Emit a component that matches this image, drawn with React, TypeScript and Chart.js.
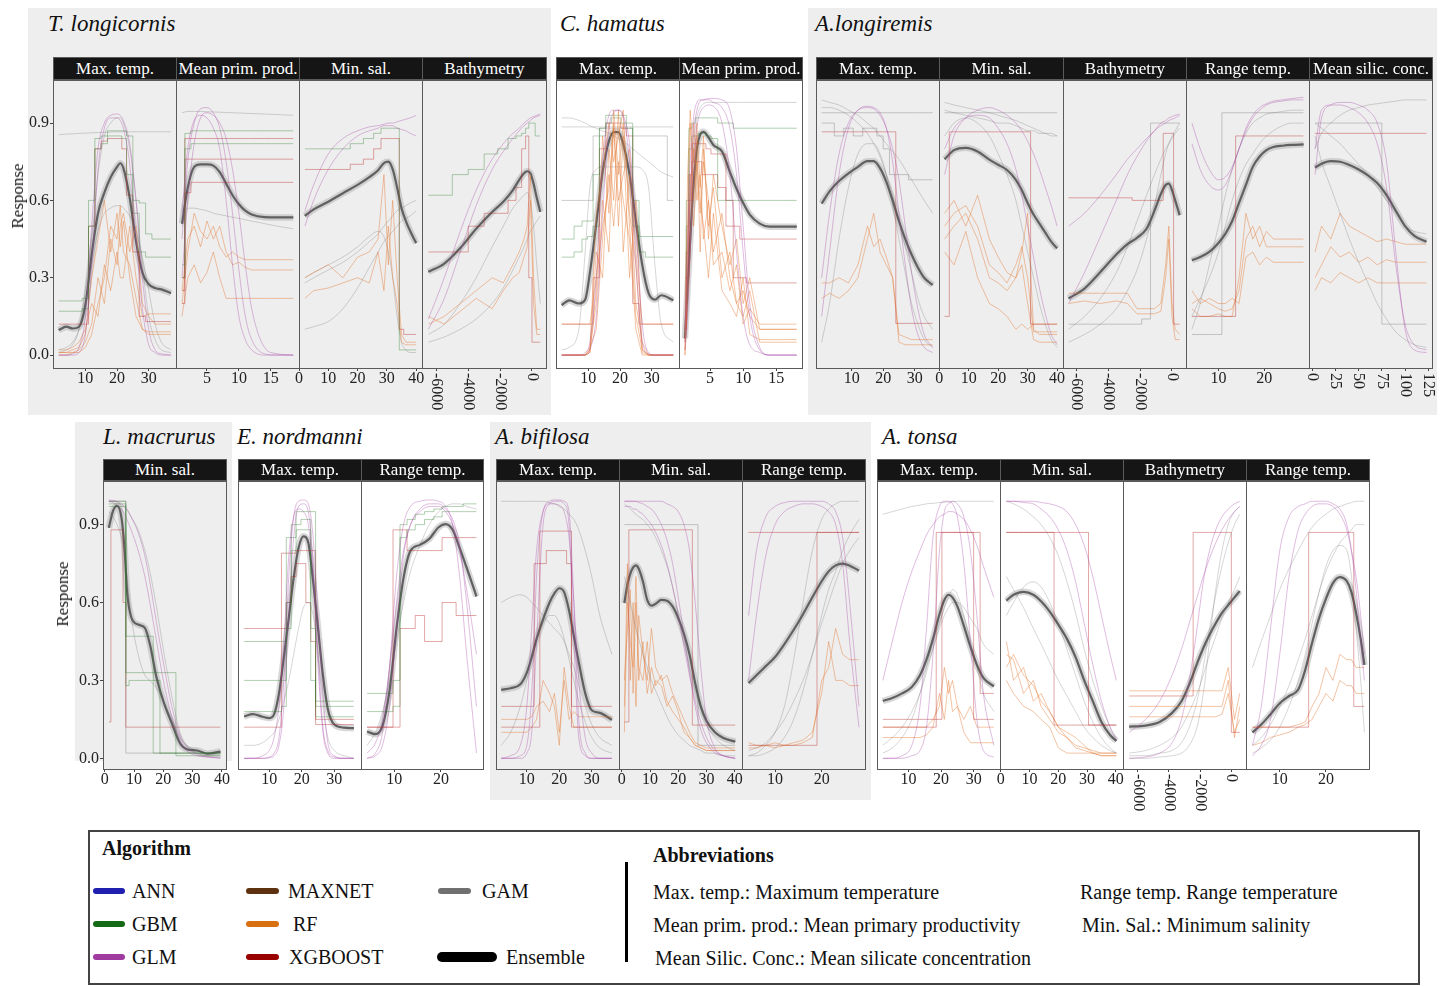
import React, { useEffect, useRef } from 'react';
import { Chart, registerables } from 'chart.js';
Chart.register(...registerables);

const SERIF = '"Liberation Serif", "Times New Roman", serif';
const GREY = '#eeeeee';

// ---------- tick values ----------
const Y_TICKS = [0, 0.3, 0.6, 0.9];
const TEMP_TICKS = [10, 20, 30];
const PROD_TICKS = [5, 10, 15];
const SAL_TICKS = [0, 10, 20, 30, 40];
const BATHY_TICKS = [-6000, -4000, -2000, 0];
const RANGE_TICKS = [10, 20];
const SILIC_TICKS = [0, 25, 50, 75, 100, 125];

type Line = [string, number[]];

// ---------- T. longicornis ----------
const TL_TEMP_X = [1.6, 4, 6, 8, 10, 12, 14, 16, 18, 20, 21, 22, 24, 26, 28, 30, 32, 34, 37];
const TL_TEMP_ENS = [0.097, 0.11, 0.103, 0.11, 0.194, 0.39, 0.55, 0.63, 0.69, 0.73, 0.744, 0.725, 0.61, 0.44, 0.32, 0.275, 0.26, 0.255, 0.24];
const TL_TEMP_LINES: Line[] = [
  ['glm', [0, 0, 0.005, 0.03, 0.15, 0.5, 0.8, 0.9, 0.93, 0.935, 0.93, 0.91, 0.82, 0.6, 0.3, 0.1, 0.02, 0.005, 0]],
  ['glm', [0, 0, 0, 0.01, 0.08, 0.35, 0.72, 0.88, 0.92, 0.92, 0.91, 0.88, 0.74, 0.45, 0.18, 0.04, 0.01, 0, 0]],
  ['gbm', [0.21, 0.21, 0.21, 0.21, 0.22, 0.6, 0.84, 0.85, 0.87, 0.87, 0.87, 0.87, 0.85, 0.6, 0.59, 0.47, 0.45, 0.45, 0.45]],
  ['gbm', [0.17, 0.17, 0.17, 0.17, 0.18, 0.5, 0.8, 0.82, 0.85, 0.85, 0.85, 0.84, 0.7, 0.55, 0.4, 0.38, 0.38, 0.38, 0.38]],
  ['xgb', [0.12, 0.12, 0.12, 0.12, 0.12, 0.5, 0.8, 0.83, 0.84, 0.84, 0.84, 0.8, 0.62, 0.4, 0.15, 0.13, 0.13, 0.13, 0.13]],
  ['rf', [0.01, 0.01, 0.01, 0.02, 0.05, 0.12, 0.3, 0.2, 0.45, 0.35, 0.5, 0.55, 0.4, 0.5, 0.2, 0.15, 0.12, 0.12, 0.12]],
  ['rf', [0.02, 0.02, 0.03, 0.05, 0.1, 0.2, 0.15, 0.35, 0.25, 0.4, 0.3, 0.3, 0.5, 0.3, 0.15, 0.16, 0.16, 0.16, 0.16]],
  ['rf', [0, 0, 0.01, 0.01, 0.03, 0.08, 0.2, 0.3, 0.5, 0.45, 0.58, 0.4, 0.35, 0.22, 0.1, 0.09, 0.09, 0.09, 0.09]],
  ['rf', [0.01, 0.01, 0.02, 0.03, 0.08, 0.3, 0.45, 0.6, 0.4, 0.55, 0.42, 0.52, 0.3, 0.15, 0.1, 0.08, 0.08, 0.08, 0.08]],
  ['gam', [0.855, 0.857, 0.858, 0.86, 0.861, 0.862, 0.863, 0.864, 0.865, 0.866, 0.866, 0.866, 0.866, 0.866, 0.866, 0.866, 0.866, 0.866, 0.866]],
  ['gam', [0.02, 0.03, 0.05, 0.1, 0.2, 0.35, 0.48, 0.55, 0.57, 0.58, 0.58, 0.57, 0.54, 0.48, 0.38, 0.25, 0.12, 0.05, 0.02]],
  ['gam', [0.01, 0.02, 0.04, 0.1, 0.25, 0.45, 0.7, 0.85, 0.9, 0.92, 0.92, 0.9, 0.8, 0.6, 0.35, 0.15, 0.06, 0.02, 0.01]],
];

const TL_PROD_X = [1.1, 2, 3, 4, 5, 6, 7, 8, 9, 10, 11, 12, 14, 16, 18.5];
const TL_PROD_ENS = [0.51, 0.65, 0.73, 0.74, 0.74, 0.735, 0.71, 0.665, 0.62, 0.585, 0.56, 0.545, 0.535, 0.534, 0.534];
const TL_PROD_LINES: Line[] = [
  ['glm', [0.45, 0.75, 0.9, 0.955, 0.96, 0.94, 0.88, 0.75, 0.55, 0.33, 0.15, 0.06, 0.005, 0, 0]],
  ['glm', [0.3, 0.6, 0.82, 0.92, 0.94, 0.93, 0.9, 0.84, 0.72, 0.55, 0.35, 0.18, 0.03, 0.005, 0]],
  ['glm', [0.55, 0.8, 0.91, 0.93, 0.92, 0.88, 0.8, 0.6, 0.35, 0.15, 0.06, 0.02, 0, 0, 0]],
  ['gbm', [0.35, 0.86, 0.87, 0.87, 0.87, 0.87, 0.87, 0.87, 0.87, 0.87, 0.87, 0.87, 0.87, 0.87, 0.87]],
  ['gbm', [0.3, 0.8, 0.82, 0.82, 0.82, 0.82, 0.82, 0.82, 0.82, 0.82, 0.82, 0.82, 0.82, 0.82, 0.82]],
  ['xgb', [0.3, 0.84, 0.84, 0.84, 0.84, 0.84, 0.84, 0.84, 0.84, 0.84, 0.84, 0.84, 0.84, 0.84, 0.84]],
  ['xgb', [0.2, 0.63, 0.67, 0.67, 0.67, 0.67, 0.67, 0.67, 0.67, 0.67, 0.67, 0.67, 0.67, 0.67, 0.67]],
  ['xgb', [0.25, 0.76, 0.76, 0.76, 0.76, 0.76, 0.76, 0.76, 0.76, 0.76, 0.76, 0.76, 0.76, 0.76, 0.76]],
  ['rf', [0.25, 0.45, 0.5, 0.42, 0.52, 0.45, 0.5, 0.4, 0.35, 0.36, 0.34, 0.33, 0.33, 0.33, 0.33]],
  ['rf', [0.15, 0.3, 0.35, 0.28, 0.32, 0.4, 0.3, 0.22, 0.22, 0.22, 0.22, 0.22, 0.22, 0.22, 0.22]],
  ['rf', [0.2, 0.4, 0.55, 0.48, 0.45, 0.5, 0.42, 0.38, 0.4, 0.38, 0.37, 0.37, 0.37, 0.37, 0.37]],
  ['gam', [0.5, 0.57, 0.57, 0.565, 0.56, 0.55, 0.545, 0.54, 0.535, 0.53, 0.525, 0.52, 0.51, 0.5, 0.49]],
  ['gam', [0.94, 0.945, 0.945, 0.945, 0.944, 0.943, 0.942, 0.941, 0.94, 0.939, 0.938, 0.937, 0.935, 0.933, 0.93]],
];

const TL_SAL_X = [2, 5, 10, 15, 20, 24, 27, 29, 30.5, 32, 33.5, 35, 36.5, 38, 40];
const TL_SAL_ENS = [0.54, 0.565, 0.595, 0.628, 0.66, 0.69, 0.717, 0.745, 0.75, 0.72, 0.65, 0.57, 0.52, 0.48, 0.435];
const TL_SAL_LINES: Line[] = [
  ['glm', [0.56, 0.66, 0.78, 0.84, 0.87, 0.885, 0.89, 0.895, 0.9, 0.9, 0.905, 0.91, 0.915, 0.92, 0.93]],
  ['glm', [0.5, 0.6, 0.72, 0.8, 0.85, 0.87, 0.88, 0.89, 0.89, 0.89, 0.88, 0.875, 0.87, 0.86, 0.85]],
  ['gbm', [0.8, 0.8, 0.8, 0.8, 0.82, 0.84, 0.86, 0.88, 0.88, 0.88, 0.88, 0.02, 0.02, 0.02, 0.02]],
  ['xgb', [0.72, 0.72, 0.72, 0.72, 0.74, 0.76, 0.8, 0.84, 0.84, 0.84, 0.84, 0.1, 0.08, 0.08, 0.08]],
  ['rf', [0.3, 0.32, 0.35, 0.3, 0.38, 0.4, 0.45, 0.7, 0.35, 0.6, 0.3, 0.08, 0.05, 0.05, 0.05]],
  ['rf', [0.22, 0.25, 0.26, 0.28, 0.3, 0.28, 0.4, 0.25, 0.5, 0.3, 0.2, 0.05, 0.04, 0.04, 0.04]],
  ['gam', [0.1, 0.11, 0.13, 0.18, 0.26, 0.34, 0.4, 0.44, 0.46, 0.48, 0.5, 0.52, 0.53, 0.54, 0.56]],
  ['gam', [0.28, 0.3, 0.33, 0.36, 0.4, 0.44, 0.47, 0.5, 0.52, 0.54, 0.56, 0.57, 0.58, 0.59, 0.6]],
  ['gam', [0.3, 0.32, 0.35, 0.38, 0.42, 0.46, 0.48, 0.46, 0.4, 0.3, 0.15, 0.05, 0.02, 0.01, 0.01]],
];

const TL_BATHY_X = [-6500, -5500, -4500, -3500, -2500, -1800, -1200, -800, -500, -300, -100, 100, 300, 520];
const TL_BATHY_ENS = [0.323, 0.355, 0.415, 0.49, 0.555, 0.595, 0.64, 0.68, 0.705, 0.713, 0.705, 0.665, 0.61, 0.556];
const TL_BATHY_LINES: Line[] = [
  ['glm', [0.14, 0.3, 0.48, 0.64, 0.76, 0.82, 0.86, 0.88, 0.9, 0.91, 0.92, 0.925, 0.93, 0.935]],
  ['glm', [0.1, 0.22, 0.4, 0.58, 0.72, 0.79, 0.84, 0.87, 0.89, 0.9, 0.91, 0.92, 0.925, 0.93]],
  ['gbm', [0.62, 0.62, 0.7, 0.72, 0.78, 0.8, 0.84, 0.85, 0.86, 0.88, 0.9, 0.9, 0.85, 0.85]],
  ['xgb', [0.4, 0.4, 0.4, 0.5, 0.55, 0.55, 0.6, 0.65, 0.8, 0.85, 0.3, 0.05, 0.05, 0.05]],
  ['rf', [0.12, 0.15, 0.2, 0.25, 0.3, 0.28, 0.35, 0.4, 0.45, 0.5, 0.7, 0.3, 0.1, 0.1]],
  ['rf', [0.15, 0.12, 0.17, 0.22, 0.18, 0.25, 0.3, 0.32, 0.38, 0.42, 0.6, 0.2, 0.08, 0.08]],
  ['gam', [0.05, 0.07, 0.1, 0.14, 0.2, 0.26, 0.33, 0.38, 0.42, 0.45, 0.48, 0.5, 0.52, 0.54]],
  ['gam', [0.08, 0.12, 0.2, 0.3, 0.42, 0.5, 0.57, 0.6, 0.62, 0.63, 0.6, 0.5, 0.35, 0.2]],
];

// ---------- C. hamatus ----------
const CH_TEMP_X = [1.6, 4, 7, 9, 10.5, 12.5, 14.5, 16.5, 18, 19.5, 21, 23, 25, 27, 29, 31, 33, 36.8];
const CH_TEMP_ENS = [0.194, 0.212, 0.2, 0.215, 0.32, 0.51, 0.71, 0.83, 0.865, 0.865, 0.82, 0.7, 0.52, 0.35, 0.24, 0.215, 0.232, 0.213];
const CH_TEMP_LINES: Line[] = [
  ['glm', [0, 0, 0, 0.01, 0.05, 0.3, 0.75, 0.93, 0.95, 0.95, 0.92, 0.75, 0.35, 0.05, 0.005, 0, 0, 0]],
  ['glm', [0, 0, 0, 0, 0.02, 0.15, 0.55, 0.88, 0.94, 0.95, 0.93, 0.82, 0.5, 0.12, 0.01, 0, 0, 0]],
  ['rf', [0, 0, 0, 0, 0.02, 0.2, 0.6, 0.4, 0.9, 0.5, 0.85, 0.3, 0.6, 0.02, 0, 0, 0, 0]],
  ['rf', [0, 0, 0, 0, 0.01, 0.4, 0.3, 0.8, 0.6, 0.95, 0.4, 0.7, 0.2, 0.05, 0, 0, 0, 0]],
  ['rf', [0, 0, 0, 0, 0.03, 0.1, 0.45, 0.7, 0.5, 0.75, 0.6, 0.45, 0.1, 0, 0, 0, 0, 0]],
  ['rf', [0, 0, 0, 0, 0.01, 0.25, 0.85, 0.55, 0.95, 0.7, 0.9, 0.55, 0.35, 0.01, 0, 0, 0, 0]],
  ['rf', [0, 0, 0, 0, 0.02, 0.55, 0.7, 0.9, 0.75, 0.85, 0.95, 0.5, 0.15, 0.02, 0, 0, 0, 0]],
  ['rf', [0.12, 0.12, 0.12, 0.12, 0.12, 0.3, 0.5, 0.65, 0.88, 0.6, 0.7, 0.8, 0.4, 0.12, 0.12, 0.12, 0.12, 0.12]],
  ['gbm', [0.38, 0.38, 0.4, 0.45, 0.46, 0.5, 0.85, 0.93, 0.93, 0.93, 0.93, 0.9, 0.5, 0.4, 0.38, 0.38, 0.38, 0.38]],
  ['gbm', [0.45, 0.45, 0.5, 0.52, 0.52, 0.7, 0.88, 0.9, 0.92, 0.92, 0.9, 0.88, 0.6, 0.46, 0.46, 0.46, 0.46, 0.46]],
  ['xgb', [0.12, 0.12, 0.12, 0.12, 0.12, 0.3, 0.8, 0.9, 0.9, 0.9, 0.88, 0.85, 0.2, 0.12, 0.12, 0.12, 0.12, 0.12]],
  ['grey', [0.6, 0.6, 0.6, 0.6, 0.6, 0.85, 0.88, 0.88, 0.88, 0.88, 0.88, 0.88, 0.85, 0.85, 0.85, 0.85, 0.85, 0.6]],
  ['gam', [0.885, 0.885, 0.885, 0.885, 0.885, 0.885, 0.885, 0.885, 0.885, 0.885, 0.885, 0.885, 0.885, 0.885, 0.885, 0.885, 0.885, 0.885]],
  ['gam', [0.92, 0.92, 0.91, 0.9, 0.89, 0.88, 0.87, 0.86, 0.85, 0.84, 0.83, 0.81, 0.79, 0.77, 0.75, 0.73, 0.71, 0.69]],
  ['gam', [0.02, 0.03, 0.1, 0.4, 0.65, 0.72, 0.73, 0.73, 0.73, 0.73, 0.73, 0.73, 0.73, 0.72, 0.65, 0.35, 0.12, 0.05]],
];

const CH_PROD_X = [1.2, 1.6, 2, 2.5, 3, 3.5, 4, 4.75, 5.5, 6.8, 8, 9, 10, 11, 12.5, 14, 16, 18.1];
const CH_PROD_ENS = [0.065, 0.26, 0.45, 0.66, 0.8, 0.855, 0.866, 0.845, 0.815, 0.79, 0.71, 0.645, 0.59, 0.545, 0.51, 0.498, 0.498, 0.498];
const CH_PROD_LINES: Line[] = [
  ['glm', [0.05, 0.3, 0.6, 0.85, 0.95, 0.985, 0.99, 0.995, 0.995, 0.99, 0.95, 0.8, 0.5, 0.2, 0.03, 0, 0, 0]],
  ['glm', [0.02, 0.15, 0.4, 0.7, 0.88, 0.94, 0.96, 0.97, 0.965, 0.9, 0.7, 0.4, 0.15, 0.04, 0.01, 0, 0, 0]],
  ['glm', [0.1, 0.45, 0.75, 0.92, 0.98, 0.99, 0.99, 0.99, 0.98, 0.96, 0.88, 0.7, 0.4, 0.15, 0.02, 0, 0, 0]],
  ['rf', [0.05, 0.5, 0.9, 0.6, 0.85, 0.4, 0.8, 0.5, 0.65, 0.3, 0.4, 0.2, 0.25, 0.15, 0.1, 0.1, 0.1, 0.1]],
  ['rf', [0.02, 0.3, 0.7, 0.5, 0.75, 0.6, 0.5, 0.3, 0.55, 0.25, 0.2, 0.15, 0.3, 0.08, 0.06, 0.06, 0.06, 0.06]],
  ['rf', [0, 0.2, 0.4, 0.8, 0.6, 0.7, 0.45, 0.6, 0.35, 0.4, 0.25, 0.35, 0.12, 0.18, 0.12, 0.12, 0.12, 0.12]],
  ['rf', [0.1, 0.7, 0.95, 0.75, 0.9, 0.65, 0.85, 0.45, 0.7, 0.5, 0.35, 0.45, 0.2, 0.3, 0.1, 0.1, 0.1, 0.1]],
  ['rf', [0, 0.4, 0.6, 0.9, 0.7, 0.55, 0.75, 0.6, 0.4, 0.55, 0.3, 0.2, 0.15, 0.25, 0.05, 0.05, 0.05, 0.05]],
  ['gbm', [0.3, 0.6, 0.88, 0.9, 0.92, 0.92, 0.92, 0.92, 0.92, 0.9, 0.9, 0.88, 0.88, 0.88, 0.88, 0.88, 0.88, 0.88]],
  ['gbm', [0.2, 0.5, 0.8, 0.85, 0.85, 0.86, 0.86, 0.85, 0.84, 0.6, 0.6, 0.6, 0.6, 0.6, 0.6, 0.6, 0.6, 0.6]],
  ['xgb', [0.1, 0.4, 0.7, 0.82, 0.82, 0.82, 0.82, 0.8, 0.78, 0.78, 0.6, 0.3, 0.3, 0.28, 0.28, 0.28, 0.28, 0.28]],
  ['xgb', [0.1, 0.3, 0.6, 0.75, 0.75, 0.75, 0.7, 0.7, 0.7, 0.65, 0.5, 0.5, 0.45, 0.45, 0.45, 0.45, 0.45, 0.45]],
  ['gam', [0.1, 0.25, 0.5, 0.8, 0.92, 0.96, 0.975, 0.98, 0.98, 0.98, 0.98, 0.98, 0.98, 0.98, 0.98, 0.98, 0.98, 0.98]],
];

// ---------- A. longiremis ----------
const AL_TEMP_X = [0.5, 3, 6, 9, 12, 15, 17, 19, 21, 23, 25, 27, 29, 31, 33, 35.7];
const AL_TEMP_ENS = [0.588, 0.635, 0.675, 0.705, 0.73, 0.752, 0.752, 0.725, 0.672, 0.6, 0.52, 0.45, 0.39, 0.34, 0.3, 0.272];
const AL_TEMP_LINES: Line[] = [
  ['gam', [0.99, 0.98, 0.97, 0.95, 0.93, 0.9, 0.88, 0.85, 0.82, 0.79, 0.76, 0.72, 0.68, 0.64, 0.6, 0.55]],
  ['gam', [0.96, 0.96, 0.95, 0.93, 0.9, 0.86, 0.82, 0.77, 0.7, 0.62, 0.52, 0.42, 0.32, 0.22, 0.15, 0.1]],
  ['grey', [0.94, 0.94, 0.94, 0.94, 0.94, 0.94, 0.94, 0.94, 0.94, 0.94, 0.94, 0.94, 0.94, 0.94, 0.94, 0.94]],
  ['gam', [0.05, 0.2, 0.45, 0.65, 0.78, 0.82, 0.82, 0.78, 0.7, 0.58, 0.45, 0.32, 0.2, 0.12, 0.06, 0.03]],
  ['glm', [0.15, 0.4, 0.7, 0.88, 0.95, 0.965, 0.96, 0.94, 0.88, 0.75, 0.55, 0.35, 0.18, 0.08, 0.03, 0.01]],
  ['glm', [0.3, 0.55, 0.78, 0.9, 0.95, 0.96, 0.955, 0.93, 0.88, 0.8, 0.68, 0.5, 0.32, 0.18, 0.08, 0.03]],
  ['xgb', [0.866, 0.866, 0.866, 0.866, 0.866, 0.866, 0.866, 0.866, 0.866, 0.866, 0.123, 0.123, 0.123, 0.123, 0.123, 0.123]],
  ['rf', [0.28, 0.28, 0.3, 0.28, 0.35, 0.5, 0.42, 0.45, 0.38, 0.3, 0.08, 0.07, 0.06, 0.06, 0.06, 0.06]],
  ['rf', [0.22, 0.24, 0.22, 0.25, 0.3, 0.45, 0.55, 0.4, 0.35, 0.3, 0.05, 0.04, 0.04, 0.04, 0.04, 0.04]],
  ['grey', [0.9, 0.9, 0.85, 0.88, 0.85, 0.88, 0.88, 0.85, 0.8, 0.7, 0.7, 0.7, 0.68, 0.68, 0.68, 0.68]],
];

const AL_SAL_X = [1.8, 5, 9, 13, 17, 20, 23, 26, 28, 30, 32, 34, 36, 38, 40];
const AL_SAL_ENS = [0.76, 0.795, 0.804, 0.79, 0.758, 0.738, 0.718, 0.68, 0.64, 0.59, 0.545, 0.51, 0.475, 0.44, 0.414];
const AL_SAL_LINES: Line[] = [
  ['gam', [0.98, 0.97, 0.96, 0.95, 0.94, 0.93, 0.92, 0.91, 0.9, 0.89, 0.88, 0.87, 0.86, 0.86, 0.85]],
  ['gam', [0.95, 0.94, 0.93, 0.92, 0.91, 0.9, 0.9, 0.89, 0.88, 0.87, 0.87, 0.86, 0.86, 0.85, 0.85]],
  ['grey', [0.94, 0.94, 0.94, 0.94, 0.94, 0.94, 0.94, 0.94, 0.94, 0.94, 0.94, 0.94, 0.94, 0.94, 0.94]],
  ['gam', [0.85, 0.9, 0.92, 0.9, 0.85, 0.78, 0.7, 0.6, 0.5, 0.4, 0.3, 0.2, 0.12, 0.06, 0.03]],
  ['glm', [0.7, 0.85, 0.92, 0.95, 0.96, 0.95, 0.93, 0.9, 0.87, 0.83, 0.78, 0.72, 0.65, 0.58, 0.5]],
  ['glm', [0.8, 0.88, 0.92, 0.93, 0.92, 0.88, 0.82, 0.72, 0.62, 0.5, 0.38, 0.26, 0.16, 0.08, 0.04]],
  ['xgb', [0.15, 0.866, 0.866, 0.866, 0.866, 0.866, 0.866, 0.866, 0.866, 0.866, 0.12, 0.12, 0.12, 0.12, 0.12]],
  ['rf', [0.55, 0.6, 0.5, 0.62, 0.45, 0.38, 0.32, 0.3, 0.4, 0.55, 0.1, 0.08, 0.08, 0.08, 0.08]],
  ['rf', [0.45, 0.5, 0.55, 0.45, 0.3, 0.28, 0.25, 0.3, 0.35, 0.2, 0.06, 0.05, 0.05, 0.05, 0.05]],
  ['rf', [0.4, 0.35, 0.48, 0.3, 0.2, 0.18, 0.15, 0.1, 0.12, 0.1, 0.12, 0.12, 0.12, 0.12, 0.12]],
  ['rf', [0.5, 0.55, 0.58, 0.5, 0.35, 0.32, 0.28, 0.35, 0.42, 0.3, 0.09, 0.09, 0.09, 0.09, 0.09]],
];

const AL_BATHY_X = [-6500, -5500, -4500, -3500, -2800, -2200, -1600, -1100, -700, -400, -200, 0, 200, 480];
const AL_BATHY_ENS = [0.22, 0.258, 0.322, 0.39, 0.43, 0.455, 0.49, 0.56, 0.625, 0.66, 0.665, 0.64, 0.6, 0.543];
const AL_BATHY_LINES: Line[] = [
  ['glm', [0.5, 0.55, 0.62, 0.7, 0.76, 0.8, 0.84, 0.87, 0.89, 0.9, 0.91, 0.915, 0.92, 0.93]],
  ['glm', [0.2, 0.32, 0.46, 0.6, 0.7, 0.77, 0.83, 0.87, 0.9, 0.91, 0.92, 0.925, 0.93, 0.935]],
  ['gam', [0.1, 0.15, 0.22, 0.32, 0.42, 0.52, 0.62, 0.7, 0.76, 0.8, 0.82, 0.84, 0.86, 0.88]],
  ['gam', [0.05, 0.08, 0.12, 0.18, 0.25, 0.33, 0.45, 0.58, 0.7, 0.78, 0.82, 0.85, 0.87, 0.9]],
  ['grey', [0.12, 0.12, 0.12, 0.12, 0.12, 0.12, 0.14, 0.9, 0.9, 0.9, 0.9, 0.9, 0.9, 0.9]],
  ['xgb', [0.61, 0.61, 0.61, 0.61, 0.61, 0.6, 0.6, 0.6, 0.6, 0.86, 0.86, 0.86, 0.12, 0.12]],
  ['rf', [0.24, 0.24, 0.24, 0.24, 0.24, 0.18, 0.18, 0.18, 0.2, 0.35, 0.5, 0.2, 0.1, 0.08]],
  ['rf', [0.2, 0.21, 0.2, 0.21, 0.2, 0.16, 0.16, 0.16, 0.17, 0.3, 0.45, 0.15, 0.06, 0.06]],
];

const AL_RANGE_X = [4.2, 6, 8, 10, 11.5, 13, 14.5, 16, 17.5, 19, 20.5, 22, 24, 26, 28.6];
const AL_RANGE_ENS = [0.368, 0.38, 0.4, 0.435, 0.47, 0.52, 0.59, 0.66, 0.73, 0.77, 0.795, 0.807, 0.812, 0.815, 0.817];
const AL_RANGE_LINES: Line[] = [
  ['glm', [0.9, 0.8, 0.72, 0.68, 0.69, 0.73, 0.8, 0.88, 0.93, 0.96, 0.975, 0.985, 0.99, 0.995, 1.0]],
  ['glm', [0.82, 0.72, 0.66, 0.64, 0.66, 0.72, 0.8, 0.87, 0.92, 0.95, 0.97, 0.98, 0.985, 0.99, 0.99]],
  ['gam', [0.1, 0.2, 0.35, 0.5, 0.62, 0.72, 0.8, 0.86, 0.9, 0.92, 0.935, 0.94, 0.945, 0.95, 0.95]],
  ['gam', [0.15, 0.22, 0.3, 0.4, 0.5, 0.6, 0.68, 0.74, 0.78, 0.82, 0.85, 0.87, 0.89, 0.9, 0.9]],
  ['grey', [0.08, 0.08, 0.08, 0.08, 0.94, 0.94, 0.94, 0.94, 0.94, 0.94, 0.94, 0.94, 0.94, 0.94, 0.94]],
  ['xgb', [0.15, 0.15, 0.15, 0.15, 0.15, 0.15, 0.85, 0.85, 0.85, 0.85, 0.85, 0.85, 0.85, 0.85, 0.85]],
  ['rf', [0.2, 0.22, 0.2, 0.18, 0.17, 0.18, 0.25, 0.45, 0.5, 0.42, 0.48, 0.45, 0.45, 0.45, 0.45]],
  ['rf', [0.25, 0.2, 0.22, 0.2, 0.2, 0.22, 0.2, 0.38, 0.4, 0.35, 0.38, 0.36, 0.36, 0.36, 0.36]],
  ['rf', [0.18, 0.15, 0.15, 0.16, 0.15, 0.15, 0.3, 0.55, 0.45, 0.5, 0.42, 0.42, 0.42, 0.42, 0.42]],
];

const AL_SILIC_X = [3, 10, 20, 30, 40, 50, 60, 70, 80, 90, 100, 110, 123];
const AL_SILIC_ENS = [0.727, 0.742, 0.752, 0.75, 0.737, 0.72, 0.697, 0.667, 0.62, 0.56, 0.5, 0.462, 0.44];
const AL_SILIC_LINES: Line[] = [
  ['glm', [0.7, 0.92, 0.97, 0.98, 0.98, 0.97, 0.95, 0.9, 0.75, 0.4, 0.1, 0.02, 0.01]],
  ['glm', [0.8, 0.95, 0.97, 0.97, 0.96, 0.94, 0.9, 0.82, 0.65, 0.35, 0.12, 0.04, 0.02]],
  ['gam', [0.8, 0.86, 0.9, 0.93, 0.95, 0.96, 0.97, 0.975, 0.98, 0.985, 0.99, 0.99, 0.99]],
  ['gam', [0.85, 0.75, 0.65, 0.55, 0.45, 0.36, 0.28, 0.2, 0.14, 0.09, 0.06, 0.04, 0.03]],
  ['gam', [0.9, 0.88, 0.85, 0.82, 0.78, 0.74, 0.7, 0.65, 0.6, 0.55, 0.5, 0.48, 0.47]],
  ['xgb', [0.86, 0.86, 0.86, 0.86, 0.86, 0.86, 0.86, 0.86, 0.86, 0.86, 0.86, 0.86, 0.86]],
  ['grey', [0.9, 0.9, 0.9, 0.9, 0.9, 0.9, 0.9, 0.9, 0.12, 0.12, 0.12, 0.12, 0.12]],
  ['rf', [0.4, 0.5, 0.45, 0.55, 0.5, 0.48, 0.46, 0.44, 0.45, 0.44, 0.43, 0.43, 0.43]],
  ['rf', [0.3, 0.35, 0.42, 0.38, 0.4, 0.36, 0.38, 0.35, 0.37, 0.36, 0.36, 0.36, 0.36]],
  ['rf', [0.25, 0.3, 0.28, 0.32, 0.3, 0.28, 0.3, 0.28, 0.28, 0.28, 0.28, 0.28, 0.28]],
];

// ---------- L. macrurus ----------
const LM_SAL_X = [1.4, 2.8, 4.2, 5.7, 6.8, 7.6, 9, 11.4, 13.7, 15.4, 17.7, 20, 22.9, 25.7, 28, 31.5, 35, 39.5];
const LM_SAL_ENS = [0.888, 0.952, 0.972, 0.927, 0.8, 0.645, 0.545, 0.515, 0.502, 0.44, 0.31, 0.22, 0.135, 0.058, 0.035, 0.03, 0.018, 0.026];
const LM_SAL_LINES: Line[] = [
  ['glm', [0.995, 0.993, 0.99, 0.98, 0.97, 0.96, 0.93, 0.87, 0.78, 0.68, 0.52, 0.37, 0.2, 0.09, 0.045, 0.015, 0.005, 0.002]],
  ['glm', [0.99, 0.985, 0.975, 0.96, 0.94, 0.92, 0.88, 0.8, 0.7, 0.6, 0.45, 0.3, 0.16, 0.07, 0.03, 0.01, 0.005, 0]],
  ['gam', [0.99, 0.99, 0.985, 0.975, 0.965, 0.955, 0.93, 0.88, 0.8, 0.72, 0.58, 0.42, 0.24, 0.1, 0.05, 0.02, 0.01, 0.005]],
  ['gbm', [0.99, 0.99, 0.99, 0.99, 0.99, 0.33, 0.33, 0.33, 0.33, 0.33, 0.33, 0.33, 0.33, 0.01, 0.01, 0.01, 0.01, 0.01]],
  ['gbm', [0.98, 0.98, 0.98, 0.98, 0.98, 0.28, 0.3, 0.3, 0.3, 0.3, 0.3, 0.02, 0.02, 0.02, 0.02, 0.02, 0.02, 0.02]],
  ['gbm', [0.97, 0.97, 0.97, 0.97, 0.97, 0.47, 0.47, 0.47, 0.47, 0.47, 0.02, 0.02, 0.02, 0.02, 0.02, 0.02, 0.02, 0.02]],
  ['xgb', [0.14, 0.88, 0.88, 0.88, 0.6, 0.12, 0.12, 0.12, 0.12, 0.12, 0.12, 0.12, 0.12, 0.12, 0.12, 0.12, 0.12, 0.12]],
  ['grey', [0.99, 0.99, 0.99, 0.99, 0.99, 0.02, 0.02, 0.02, 0.02, 0.02, 0.02, 0.02, 0.02, 0.02, 0.02, 0.02, 0.02, 0.02]],
  ['gam', [0.95, 0.93, 0.9, 0.85, 0.78, 0.7, 0.55, 0.4, 0.32, 0.3, 0.27, 0.22, 0.15, 0.08, 0.05, 0.03, 0.02, 0.01]],
];

// ---------- E. nordmanni ----------
const EN_TEMP_X = [2.3, 5, 8, 10, 11.5, 13, 14.5, 16, 17.5, 19, 20.5, 22, 23.5, 25, 26.5, 28, 30, 33, 36];
const EN_TEMP_ENS = [0.161, 0.17, 0.16, 0.155, 0.17, 0.25, 0.39, 0.54, 0.695, 0.81, 0.855, 0.83, 0.68, 0.5, 0.32, 0.19, 0.13, 0.118, 0.116];
const EN_TEMP_LINES: Line[] = [
  ['glm', [0, 0, 0, 0.005, 0.02, 0.08, 0.3, 0.7, 0.93, 0.99, 0.995, 0.98, 0.85, 0.55, 0.25, 0.06, 0.01, 0, 0]],
  ['glm', [0, 0, 0, 0.002, 0.01, 0.05, 0.2, 0.55, 0.85, 0.97, 0.98, 0.95, 0.75, 0.4, 0.12, 0.03, 0.005, 0, 0]],
  ['glm', [0, 0, 0.01, 0.03, 0.08, 0.2, 0.45, 0.78, 0.93, 0.96, 0.95, 0.9, 0.7, 0.35, 0.1, 0.02, 0, 0, 0]],
  ['gbm', [0.3, 0.3, 0.3, 0.3, 0.3, 0.3, 0.3, 0.85, 0.9, 0.95, 0.95, 0.95, 0.95, 0.22, 0.22, 0.22, 0.22, 0.22, 0.22]],
  ['gbm', [0.45, 0.45, 0.45, 0.45, 0.45, 0.45, 0.45, 0.5, 0.8, 0.9, 0.92, 0.92, 0.5, 0.2, 0.2, 0.2, 0.2, 0.2, 0.2]],
  ['gbm', [0.18, 0.18, 0.18, 0.18, 0.18, 0.18, 0.2, 0.6, 0.85, 0.88, 0.88, 0.88, 0.3, 0.16, 0.16, 0.16, 0.16, 0.16, 0.16]],
  ['xgb', [0.12, 0.12, 0.12, 0.12, 0.12, 0.12, 0.79, 0.79, 0.79, 0.8, 0.8, 0.8, 0.8, 0.13, 0.13, 0.13, 0.13, 0.13, 0.13]],
  ['xgb', [0.5, 0.5, 0.5, 0.5, 0.5, 0.5, 0.5, 0.6, 0.7, 0.75, 0.75, 0.6, 0.45, 0.15, 0.15, 0.15, 0.15, 0.15, 0.15]],
  ['gam', [0.05, 0.05, 0.06, 0.08, 0.1, 0.15, 0.22, 0.3, 0.4, 0.5, 0.58, 0.6, 0.55, 0.4, 0.2, 0.08, 0.03, 0.01, 0]],
];

const EN_RANGE_X = [4.2, 6, 7.5, 9, 10.5, 12, 13.5, 15.5, 17.5, 19.5, 21, 22.5, 24, 25.5, 27.6];
const EN_RANGE_ENS = [0.103, 0.093, 0.125, 0.26, 0.5, 0.695, 0.8, 0.822, 0.845, 0.89, 0.902, 0.88, 0.81, 0.734, 0.624];
const EN_RANGE_LINES: Line[] = [
  ['glm', [0, 0.02, 0.1, 0.35, 0.7, 0.9, 0.97, 0.99, 0.995, 0.99, 0.97, 0.9, 0.7, 0.4, 0.02]],
  ['glm', [0, 0.01, 0.05, 0.2, 0.5, 0.78, 0.9, 0.96, 0.98, 0.98, 0.96, 0.92, 0.82, 0.6, 0.2]],
  ['glm', [0.02, 0.06, 0.15, 0.35, 0.6, 0.8, 0.9, 0.95, 0.97, 0.97, 0.95, 0.9, 0.8, 0.65, 0.4]],
  ['gbm', [0.25, 0.25, 0.25, 0.25, 0.3, 0.9, 0.92, 0.94, 0.95, 0.96, 0.97, 0.97, 0.97, 0.98, 0.98]],
  ['gbm', [0.18, 0.18, 0.18, 0.18, 0.2, 0.85, 0.88, 0.9, 0.92, 0.93, 0.95, 0.95, 0.95, 0.95, 0.95]],
  ['xgb', [0.12, 0.12, 0.12, 0.12, 0.88, 0.88, 0.8, 0.8, 0.8, 0.8, 0.85, 0.85, 0.85, 0.85, 0.85]],
  ['xgb', [0.12, 0.12, 0.12, 0.12, 0.12, 0.5, 0.5, 0.55, 0.45, 0.45, 0.6, 0.6, 0.55, 0.55, 0.55]],
  ['gam', [0.05, 0.1, 0.18, 0.3, 0.45, 0.6, 0.72, 0.82, 0.9, 0.95, 0.97, 0.98, 0.98, 0.97, 0.96]],
];

// ---------- A. bifilosa ----------
const AB_TEMP_X = [2.1, 5, 8, 10, 11.5, 13, 15, 17, 18.5, 20, 21.5, 23, 24.5, 26, 28, 30, 32.5, 36.2];
const AB_TEMP_ENS = [0.264, 0.27, 0.285, 0.33, 0.39, 0.46, 0.535, 0.6, 0.635, 0.655, 0.64, 0.57, 0.47, 0.37, 0.25, 0.185, 0.175, 0.148];
const AB_TEMP_LINES: Line[] = [
  ['glm', [0, 0, 0.01, 0.05, 0.25, 0.7, 0.95, 0.99, 0.995, 0.995, 0.99, 0.95, 0.6, 0.15, 0.02, 0, 0, 0]],
  ['glm', [0, 0, 0, 0.02, 0.1, 0.45, 0.9, 0.98, 0.99, 0.99, 0.98, 0.9, 0.45, 0.08, 0.01, 0, 0, 0]],
  ['glm', [0, 0.01, 0.05, 0.2, 0.5, 0.8, 0.95, 0.98, 0.98, 0.97, 0.95, 0.85, 0.6, 0.3, 0.08, 0.02, 0, 0]],
  ['gam', [0.99, 0.99, 0.99, 0.99, 0.99, 0.99, 0.99, 0.985, 0.98, 0.975, 0.96, 0.94, 0.92, 0.88, 0.8, 0.7, 0.55, 0.4]],
  ['gam', [0.6, 0.62, 0.63, 0.62, 0.6, 0.58, 0.55, 0.52, 0.5, 0.48, 0.45, 0.4, 0.35, 0.28, 0.2, 0.13, 0.08, 0.05]],
  ['gam', [0.05, 0.1, 0.2, 0.3, 0.38, 0.45, 0.52, 0.55, 0.55, 0.52, 0.46, 0.38, 0.3, 0.22, 0.14, 0.08, 0.04, 0.02]],
  ['xgb', [0.12, 0.12, 0.12, 0.12, 0.12, 0.12, 0.875, 0.875, 0.875, 0.875, 0.875, 0.875, 0.12, 0.12, 0.12, 0.12, 0.12, 0.12]],
  ['xgb', [0.2, 0.2, 0.2, 0.2, 0.2, 0.75, 0.75, 0.8, 0.8, 0.8, 0.8, 0.75, 0.2, 0.2, 0.2, 0.2, 0.2, 0.2]],
  ['rf', [0.15, 0.15, 0.15, 0.15, 0.16, 0.2, 0.22, 0.18, 0.25, 0.1, 0.3, 0.15, 0.18, 0.16, 0.16, 0.16, 0.16, 0.16]],
  ['rf', [0.1, 0.1, 0.1, 0.1, 0.12, 0.15, 0.3, 0.25, 0.2, 0.05, 0.35, 0.2, 0.12, 0.12, 0.12, 0.12, 0.12, 0.12]],
];

const AB_SAL_X = [0.9, 2, 3, 4, 5, 6, 7.5, 9, 10.5, 12, 14, 16, 18, 20, 22, 24, 26, 28, 30, 33, 36, 40.2];
const AB_SAL_ENS = [0.598, 0.67, 0.71, 0.735, 0.743, 0.73, 0.68, 0.61, 0.588, 0.595, 0.61, 0.607, 0.585, 0.54, 0.48, 0.4, 0.29, 0.2, 0.145, 0.1, 0.078, 0.064];
const AB_SAL_LINES: Line[] = [
  ['glm', [0.99, 0.99, 0.99, 0.99, 0.99, 0.99, 0.99, 0.99, 0.99, 0.99, 0.99, 0.98, 0.97, 0.95, 0.9, 0.8, 0.6, 0.35, 0.15, 0.04, 0.01, 0]],
  ['glm', [0.99, 0.99, 0.99, 0.99, 0.99, 0.985, 0.98, 0.97, 0.96, 0.94, 0.9, 0.84, 0.75, 0.62, 0.48, 0.33, 0.2, 0.11, 0.06, 0.02, 0.01, 0]],
  ['glm', [0.97, 0.97, 0.97, 0.96, 0.96, 0.95, 0.94, 0.92, 0.9, 0.87, 0.82, 0.75, 0.66, 0.55, 0.43, 0.32, 0.22, 0.14, 0.08, 0.03, 0.01, 0]],
  ['gam', [0.98, 0.97, 0.96, 0.95, 0.94, 0.93, 0.92, 0.9, 0.88, 0.85, 0.8, 0.74, 0.66, 0.56, 0.45, 0.35, 0.26, 0.19, 0.13, 0.08, 0.05, 0.03]],
  ['gam', [0.7, 0.65, 0.6, 0.55, 0.5, 0.46, 0.4, 0.35, 0.3, 0.26, 0.21, 0.16, 0.12, 0.09, 0.07, 0.05, 0.04, 0.03, 0.02, 0.02, 0.01, 0.01]],
  ['xgb', [0.14, 0.14, 0.88, 0.88, 0.88, 0.88, 0.88, 0.88, 0.88, 0.88, 0.88, 0.88, 0.88, 0.88, 0.88, 0.88, 0.128, 0.128, 0.128, 0.128, 0.128, 0.128]],
  ['rf', [0.2, 0.75, 0.3, 0.6, 0.2, 0.55, 0.4, 0.3, 0.5, 0.35, 0.3, 0.32, 0.25, 0.2, 0.15, 0.1, 0.06, 0.05, 0.04, 0.04, 0.04, 0.04]],
  ['rf', [0.3, 0.5, 0.65, 0.25, 0.6, 0.35, 0.3, 0.45, 0.25, 0.3, 0.28, 0.2, 0.24, 0.18, 0.1, 0.08, 0.05, 0.04, 0.03, 0.03, 0.03, 0.03]],
  ['rf', [0.1, 0.6, 0.45, 0.35, 0.7, 0.3, 0.45, 0.25, 0.35, 0.28, 0.32, 0.22, 0.18, 0.15, 0.12, 0.08, 0.05, 0.04, 0.03, 0.03, 0.03, 0.03]],
  ['grey', [0.9, 0.9, 0.9, 0.9, 0.9, 0.9, 0.9, 0.9, 0.9, 0.9, 0.9, 0.9, 0.9, 0.9, 0.9, 0.9, 0.9, 0.05, 0.05, 0.05, 0.05, 0.05]],
];

const AB_RANGE_X = [4.3, 6, 8, 10, 12, 14, 16, 18, 20, 21.5, 23, 24.5, 26, 28];
const AB_RANGE_ENS = [0.29, 0.32, 0.355, 0.39, 0.44, 0.495, 0.555, 0.62, 0.682, 0.72, 0.743, 0.75, 0.742, 0.723];
const AB_RANGE_LINES: Line[] = [
  ['glm', [0.55, 0.8, 0.93, 0.97, 0.985, 0.99, 0.99, 0.99, 0.99, 0.98, 0.95, 0.85, 0.6, 0.2]],
  ['glm', [0.3, 0.55, 0.78, 0.9, 0.95, 0.97, 0.98, 0.98, 0.97, 0.95, 0.9, 0.75, 0.45, 0.12]],
  ['gam', [0.01, 0.02, 0.05, 0.1, 0.2, 0.38, 0.6, 0.8, 0.92, 0.96, 0.98, 0.99, 0.99, 0.99]],
  ['gam', [0.01, 0.01, 0.02, 0.04, 0.08, 0.15, 0.26, 0.4, 0.55, 0.65, 0.72, 0.8, 0.86, 0.92]],
  ['gam', [0.03, 0.04, 0.06, 0.1, 0.15, 0.22, 0.3, 0.4, 0.52, 0.6, 0.68, 0.75, 0.8, 0.85]],
  ['xgb', [0.87, 0.87, 0.87, 0.87, 0.87, 0.87, 0.87, 0.87, 0.87, 0.87, 0.87, 0.87, 0.87, 0.87]],
  ['xgb', [0.05, 0.05, 0.05, 0.05, 0.05, 0.05, 0.05, 0.05, 0.87, 0.87, 0.87, 0.87, 0.87, 0.87]],
  ['rf', [0.04, 0.04, 0.05, 0.04, 0.05, 0.05, 0.06, 0.08, 0.3, 0.35, 0.5, 0.4, 0.38, 0.38]],
  ['rf', [0.06, 0.05, 0.05, 0.06, 0.05, 0.06, 0.07, 0.1, 0.25, 0.45, 0.3, 0.3, 0.28, 0.28]],
];

// ---------- A. tonsa ----------
const AT_TEMP_X = [2.1, 5, 8, 11, 13.5, 15.5, 17.5, 19.5, 21, 22.3, 23.5, 25, 27, 29, 31, 33, 36.2];
const AT_TEMP_ENS = [0.221, 0.232, 0.25, 0.275, 0.32, 0.38, 0.46, 0.555, 0.61, 0.63, 0.62, 0.585, 0.51, 0.43, 0.36, 0.31, 0.277];
const AT_TEMP_LINES: Line[] = [
  ['gam', [0.94, 0.95, 0.96, 0.97, 0.975, 0.98, 0.982, 0.985, 0.986, 0.987, 0.988, 0.99, 0.99, 0.99, 0.99, 0.99, 0.99]],
  ['glm', [0, 0, 0.01, 0.05, 0.2, 0.5, 0.85, 0.97, 0.99, 0.99, 0.98, 0.93, 0.75, 0.45, 0.15, 0.03, 0.005]],
  ['glm', [0.3, 0.45, 0.6, 0.72, 0.8, 0.86, 0.9, 0.93, 0.94, 0.95, 0.95, 0.94, 0.92, 0.88, 0.82, 0.74, 0.62]],
  ['glm', [0, 0, 0, 0.01, 0.03, 0.12, 0.4, 0.8, 0.95, 0.98, 0.99, 0.98, 0.93, 0.8, 0.55, 0.25, 0.05]],
  ['xgb', [0.12, 0.12, 0.12, 0.12, 0.12, 0.12, 0.12, 0.87, 0.87, 0.87, 0.87, 0.87, 0.87, 0.87, 0.87, 0.25, 0.25]],
  ['xgb', [0.15, 0.15, 0.15, 0.15, 0.15, 0.15, 0.15, 0.15, 0.87, 0.87, 0.87, 0.87, 0.87, 0.87, 0.15, 0.15, 0.15]],
  ['gam', [0.02, 0.04, 0.08, 0.15, 0.25, 0.35, 0.45, 0.52, 0.58, 0.62, 0.65, 0.63, 0.55, 0.45, 0.35, 0.25, 0.18]],
  ['gam', [0.05, 0.08, 0.12, 0.18, 0.25, 0.33, 0.42, 0.5, 0.55, 0.58, 0.6, 0.6, 0.58, 0.54, 0.5, 0.44, 0.4]],
  ['rf', [0.12, 0.12, 0.12, 0.12, 0.12, 0.12, 0.15, 0.2, 0.35, 0.25, 0.3, 0.2, 0.15, 0.2, 0.12, 0.12, 0.12]],
  ['rf', [0.08, 0.08, 0.08, 0.08, 0.08, 0.09, 0.12, 0.25, 0.15, 0.3, 0.18, 0.2, 0.1, 0.06, 0.06, 0.06, 0.06]],
];

const AT_SAL_X = [1.9, 4.4, 7.9, 11.3, 14, 17, 20, 23, 26, 29, 32, 35, 38, 40.2];
const AT_SAL_ENS = [0.607, 0.63, 0.641, 0.63, 0.605, 0.565, 0.515, 0.46, 0.39, 0.3, 0.22, 0.14, 0.09, 0.067];
const AT_SAL_LINES: Line[] = [
  ['glm', [0.99, 0.99, 0.99, 0.99, 0.985, 0.98, 0.97, 0.95, 0.9, 0.82, 0.7, 0.55, 0.4, 0.3]],
  ['glm', [0.99, 0.99, 0.985, 0.98, 0.96, 0.93, 0.88, 0.8, 0.68, 0.52, 0.36, 0.22, 0.12, 0.07]],
  ['gam', [0.99, 0.98, 0.96, 0.93, 0.9, 0.85, 0.78, 0.68, 0.56, 0.42, 0.3, 0.2, 0.12, 0.08]],
  ['gam', [0.55, 0.6, 0.66, 0.68, 0.66, 0.6, 0.52, 0.42, 0.32, 0.22, 0.14, 0.08, 0.04, 0.02]],
  ['gam', [0.7, 0.65, 0.58, 0.5, 0.44, 0.37, 0.3, 0.24, 0.18, 0.12, 0.08, 0.05, 0.03, 0.02]],
  ['xgb', [0.87, 0.87, 0.87, 0.87, 0.87, 0.87, 0.87, 0.87, 0.87, 0.87, 0.128, 0.128, 0.128, 0.128]],
  ['xgb', [0.87, 0.87, 0.87, 0.87, 0.87, 0.87, 0.128, 0.128, 0.128, 0.128, 0.128, 0.128, 0.128, 0.128]],
  ['rf', [0.35, 0.4, 0.32, 0.28, 0.22, 0.18, 0.12, 0.1, 0.08, 0.05, 0.02, 0.01, 0.01, 0.01]],
  ['rf', [0.3, 0.25, 0.2, 0.18, 0.15, 0.12, 0.04, 0.02, 0.02, 0.02, 0.02, 0.02, 0.02, 0.02]],
  ['rf', [0.4, 0.38, 0.25, 0.3, 0.2, 0.15, 0.1, 0.08, 0.05, 0.04, 0.03, 0.02, 0.02, 0.02]],
  ['rf', [0.45, 0.3, 0.35, 0.22, 0.25, 0.18, 0.12, 0.08, 0.04, 0.03, 0.02, 0.01, 0.01, 0.01]],
];

const AT_BATHY_X = [-6550, -5500, -4600, -3800, -3200, -2700, -2200, -1800, -1400, -1000, -600, -200, 200, 540];
const AT_BATHY_ENS = [0.122, 0.126, 0.14, 0.175, 0.22, 0.285, 0.365, 0.425, 0.476, 0.52, 0.56, 0.59, 0.62, 0.644];
const AT_BATHY_LINES: Line[] = [
  ['glm', [0, 0.005, 0.02, 0.06, 0.15, 0.3, 0.5, 0.68, 0.8, 0.88, 0.93, 0.96, 0.98, 0.99]],
  ['glm', [0.1, 0.15, 0.22, 0.32, 0.42, 0.52, 0.62, 0.7, 0.77, 0.83, 0.88, 0.92, 0.95, 0.97]],
  ['gam', [0, 0, 0.005, 0.01, 0.02, 0.05, 0.12, 0.25, 0.45, 0.65, 0.8, 0.9, 0.95, 0.97]],
  ['gam', [0.01, 0.01, 0.02, 0.03, 0.06, 0.12, 0.22, 0.35, 0.5, 0.63, 0.74, 0.83, 0.9, 0.94]],
  ['gam', [0.02, 0.03, 0.05, 0.08, 0.12, 0.18, 0.25, 0.32, 0.4, 0.47, 0.54, 0.6, 0.65, 0.7]],
  ['xgb', [0.24, 0.24, 0.24, 0.24, 0.24, 0.24, 0.87, 0.87, 0.87, 0.87, 0.87, 0.87, 0.1, 0.1]],
  ['rf', [0.2, 0.2, 0.2, 0.2, 0.2, 0.2, 0.2, 0.2, 0.2, 0.2, 0.2, 0.3, 0.08, 0.2]],
  ['rf', [0.16, 0.16, 0.16, 0.16, 0.16, 0.16, 0.16, 0.16, 0.16, 0.16, 0.17, 0.25, 0.1, 0.15]],
  ['rf', [0.26, 0.26, 0.26, 0.26, 0.26, 0.26, 0.26, 0.26, 0.26, 0.26, 0.26, 0.35, 0.15, 0.25]],
];

const AT_RANGE_X = [4.1, 6, 8, 10, 12, 14, 15.5, 17, 18.5, 20, 21.5, 23, 24.5, 25.5, 26.5, 27.5, 28.3];
const AT_RANGE_ENS = [0.1, 0.13, 0.17, 0.212, 0.24, 0.265, 0.34, 0.445, 0.54, 0.615, 0.675, 0.698, 0.682, 0.64, 0.56, 0.46, 0.36];
const AT_RANGE_LINES: Line[] = [
  ['glm', [0.05, 0.2, 0.5, 0.8, 0.93, 0.97, 0.98, 0.99, 0.99, 0.99, 0.98, 0.96, 0.9, 0.8, 0.65, 0.45, 0.3]],
  ['glm', [0.01, 0.05, 0.15, 0.4, 0.7, 0.88, 0.94, 0.97, 0.98, 0.98, 0.97, 0.94, 0.88, 0.8, 0.7, 0.55, 0.4]],
  ['gam', [0.35, 0.45, 0.55, 0.65, 0.73, 0.8, 0.85, 0.89, 0.92, 0.94, 0.96, 0.97, 0.98, 0.985, 0.99, 0.99, 0.99]],
  ['gam', [0.02, 0.04, 0.07, 0.12, 0.2, 0.3, 0.4, 0.52, 0.64, 0.74, 0.8, 0.82, 0.8, 0.7, 0.5, 0.3, 0.1]],
  ['gam', [0.05, 0.08, 0.13, 0.2, 0.28, 0.38, 0.46, 0.55, 0.64, 0.72, 0.78, 0.83, 0.86, 0.88, 0.9, 0.9, 0.9]],
  ['xgb', [0.12, 0.12, 0.12, 0.12, 0.12, 0.12, 0.12, 0.87, 0.87, 0.87, 0.87, 0.87, 0.87, 0.87, 0.2, 0.2, 0.2]],
  ['rf', [0.12, 0.12, 0.12, 0.12, 0.12, 0.13, 0.14, 0.2, 0.25, 0.35, 0.3, 0.4, 0.38, 0.38, 0.35, 0.35, 0.35]],
  ['rf', [0.05, 0.06, 0.08, 0.09, 0.1, 0.12, 0.13, 0.15, 0.2, 0.25, 0.22, 0.3, 0.28, 0.28, 0.25, 0.25, 0.25]],
];

// ---------- styles ----------
const LINE_COLORS: Record<string, string> = {
  glm: 'rgba(165,70,165,0.36)',
  gam: 'rgba(95,95,95,0.26)',
  grey: 'rgba(95,95,95,0.32)',
  gbm: 'rgba(40,125,40,0.36)',
  xgb: 'rgba(185,45,45,0.42)',
  rf: 'rgba(228,125,55,0.45)',
};

const ROWS = [
  { headTop: 57, headH: 23, plotTop: 80, plotH: 289, yMin: -0.054, yMax: 1.067 },
  { headTop: 459, headH: 22, plotTop: 481, plotH: 289, yMin: -0.045, yMax: 1.068 },
];

interface PanelCfg {
  strip: string; row: number; left: number; width: number;
  xMin: number; xMax: number; xTicks: number[]; rotate?: boolean; showY?: boolean; grey: boolean;
  x: number[]; ens: number[]; lines: Line[];
}

const PANELS: PanelCfg[] = [
  { strip: 'Max. temp.', row: 0, left: 53, width: 123, xMin: -0.2, xMax: 38.6, xTicks: TEMP_TICKS, showY: true, grey: true, x: TL_TEMP_X, ens: TL_TEMP_ENS, lines: TL_TEMP_LINES },
  { strip: 'Mean prim. prod.', row: 0, left: 176, width: 123, xMin: 0.16, xMax: 19.4, xTicks: PROD_TICKS, grey: true, x: TL_PROD_X, ens: TL_PROD_ENS, lines: TL_PROD_LINES },
  { strip: 'Min. sal.', row: 0, left: 299, width: 123, xMin: 0, xMax: 42, xTicks: SAL_TICKS, grey: true, x: TL_SAL_X, ens: TL_SAL_ENS, lines: TL_SAL_LINES },
  { strip: 'Bathymetry', row: 0, left: 422, width: 124, xMin: -6900, xMax: 880, xTicks: BATHY_TICKS, rotate: true, grey: true, x: TL_BATHY_X, ens: TL_BATHY_ENS, lines: TL_BATHY_LINES },
  { strip: 'Max. temp.', row: 0, left: 556, width: 123, xMin: -0.2, xMax: 38.6, xTicks: TEMP_TICKS, grey: false, x: CH_TEMP_X, ens: CH_TEMP_ENS, lines: CH_TEMP_LINES },
  { strip: 'Mean prim. prod.', row: 0, left: 679, width: 123, xMin: 0.3, xMax: 18.9, xTicks: PROD_TICKS, grey: false, x: CH_PROD_X, ens: CH_PROD_ENS, lines: CH_PROD_LINES },
  { strip: 'Max. temp.', row: 0, left: 816, width: 123, xMin: -1.3, xMax: 37.7, xTicks: TEMP_TICKS, grey: true, x: AL_TEMP_X, ens: AL_TEMP_ENS, lines: AL_TEMP_LINES },
  { strip: 'Min. sal.', row: 0, left: 939, width: 124, xMin: -0.1, xMax: 42, xTicks: SAL_TICKS, grey: true, x: AL_SAL_X, ens: AL_SAL_ENS, lines: AL_SAL_LINES },
  { strip: 'Bathymetry', row: 0, left: 1063, width: 123, xMin: -6850, xMax: 880, xTicks: BATHY_TICKS, rotate: true, grey: true, x: AL_BATHY_X, ens: AL_BATHY_ENS, lines: AL_BATHY_LINES },
  { strip: 'Range temp.', row: 0, left: 1186, width: 123, xMin: 2.9, xMax: 29.8, xTicks: RANGE_TICKS, grey: true, x: AL_RANGE_X, ens: AL_RANGE_ENS, lines: AL_RANGE_LINES },
  { strip: 'Mean silic. conc.', row: 0, left: 1309, width: 123, xMin: -3.5, xMax: 129, xTicks: SILIC_TICKS, rotate: true, grey: true, x: AL_SILIC_X, ens: AL_SILIC_ENS, lines: AL_SILIC_LINES },
  { strip: 'Min. sal.', row: 1, left: 103, width: 123, xMin: -0.6, xMax: 41.4, xTicks: SAL_TICKS, showY: true, grey: true, x: LM_SAL_X, ens: LM_SAL_ENS, lines: LM_SAL_LINES },
  { strip: 'Max. temp.', row: 1, left: 238, width: 123, xMin: 0.4, xMax: 38.2, xTicks: TEMP_TICKS, grey: false, x: EN_TEMP_X, ens: EN_TEMP_ENS, lines: EN_TEMP_LINES },
  { strip: 'Range temp.', row: 1, left: 361, width: 122, xMin: 2.9, xMax: 29, xTicks: RANGE_TICKS, grey: false, x: EN_RANGE_X, ens: EN_RANGE_ENS, lines: EN_RANGE_LINES },
  { strip: 'Max. temp.', row: 1, left: 496, width: 123, xMin: 0.5, xMax: 38.4, xTicks: TEMP_TICKS, grey: true, x: AB_TEMP_X, ens: AB_TEMP_ENS, lines: AB_TEMP_LINES },
  { strip: 'Min. sal.', row: 1, left: 619, width: 123, xMin: -1, xMax: 42.6, xTicks: SAL_TICKS, grey: true, x: AB_SAL_X, ens: AB_SAL_ENS, lines: AB_SAL_LINES },
  { strip: 'Range temp.', row: 1, left: 742, width: 123, xMin: 2.9, xMax: 29.3, xTicks: RANGE_TICKS, grey: true, x: AB_RANGE_X, ens: AB_RANGE_ENS, lines: AB_RANGE_LINES },
  { strip: 'Max. temp.', row: 1, left: 877, width: 123, xMin: 0.3, xMax: 38.1, xTicks: TEMP_TICKS, grey: false, x: AT_TEMP_X, ens: AT_TEMP_ENS, lines: AT_TEMP_LINES },
  { strip: 'Min. sal.', row: 1, left: 1000, width: 123, xMin: -0.3, xMax: 42.5, xTicks: SAL_TICKS, grey: false, x: AT_SAL_X, ens: AT_SAL_ENS, lines: AT_SAL_LINES },
  { strip: 'Bathymetry', row: 1, left: 1123, width: 123, xMin: -6950, xMax: 940, xTicks: BATHY_TICKS, rotate: true, grey: false, x: AT_BATHY_X, ens: AT_BATHY_ENS, lines: AT_BATHY_LINES },
  { strip: 'Range temp.', row: 1, left: 1246, width: 123, xMin: 2.7, xMax: 29.3, xTicks: RANGE_TICKS, grey: false, x: AT_RANGE_X, ens: AT_RANGE_ENS, lines: AT_RANGE_LINES },
];

const GROUP_BOXES = [
  { left: 28, top: 8, width: 523, height: 407 },
  { left: 808, top: 8, width: 629, height: 407 },
  { left: 75, top: 422, width: 157, height: 339 },
  { left: 490, top: 422, width: 381, height: 378 },
];

const TITLES = [
  { text: 'T. longicornis', left: 48, top: 12 },
  { text: 'C. hamatus', left: 560, top: 12 },
  { text: 'A.longiremis', left: 815, top: 12 },
  { text: 'L. macrurus', left: 103, top: 425 },
  { text: 'E. nordmanni', left: 237, top: 425 },
  { text: 'A. bifilosa', left: 495, top: 425 },
  { text: 'A. tonsa', left: 882, top: 425 },
];

const PADX = 16, PADT = 10, YW = 50;

function Panel({ p }: { p: PanelCfg }) {
  const ref = useRef<HTMLCanvasElement>(null);
  const row = ROWS[p.row];
  const xh = p.rotate ? 54 : 30;
  const cw = PADX * 2 + p.width + (p.showY ? YW : 0);
  const ch = PADT + row.plotH + xh;
  const cl = p.left - PADX - (p.showY ? YW : 0);
  const ct = row.plotTop - PADT;

  useEffect(() => {
    if (!ref.current) return;
    const pts = (ys: number[]) => p.x.map((x, i) => ({ x, y: ys[i] }));
    const datasets: any[] = p.lines.map(([k, ys]) => ({
      data: pts(ys),
      borderColor: LINE_COLORS[k],
      borderWidth: 1,
      pointRadius: 0,
      stepped: k === 'gbm' || k === 'xgb' || k === 'grey' ? 'middle' : false,
      cubicInterpolationMode: k === 'glm' || k === 'gam' ? 'monotone' : 'default',
      tension: 0,
      fill: false,
      clip: 0,
    }));
    datasets.push({ data: pts(p.ens), borderColor: 'rgba(175,175,175,0.5)', borderWidth: 6.5, pointRadius: 0, cubicInterpolationMode: 'monotone', fill: false, clip: 0 });
    datasets.push({ data: pts(p.ens), borderColor: '#111111', borderWidth: 2.2, pointRadius: 0, cubicInterpolationMode: 'monotone', fill: false, clip: 0 });

    const rotLabels = {
      id: 'rotLabels',
      afterDraw(chart: any) {
        if (!p.rotate) return;
        const s = chart.scales.x;
        const ctx = chart.ctx;
        ctx.save();
        ctx.font = `16px ${SERIF}`;
        ctx.fillStyle = '#222';
        ctx.textAlign = 'left';
        ctx.textBaseline = 'middle';
        p.xTicks.forEach((v) => {
          const px = s.getPixelForValue(v);
          ctx.save();
          ctx.translate(px, s.top + 4);
          ctx.rotate(Math.PI / 2);
          ctx.fillText(String(v), 0, 0);
          ctx.restore();
        });
        ctx.restore();
      },
    };

    const chart = new Chart(ref.current, {
      type: 'line',
      data: { datasets },
      options: {
        responsive: false,
        maintainAspectRatio: false,
        animation: false,
        devicePixelRatio: 1,
        events: [],
        layout: { padding: { left: PADX, right: PADX, top: PADT, bottom: 0 } },
        plugins: { legend: { display: false }, tooltip: { enabled: false } },
        scales: {
          x: {
            type: 'linear',
            min: p.xMin,
            max: p.xMax,
            afterBuildTicks: (s: any) => { s.ticks = p.xTicks.map((v) => ({ value: v })); },
            afterFit: (s: any) => { s.height = xh; },
            ticks: {
              display: !p.rotate,
              autoSkip: false,
              maxRotation: 0,
              minRotation: 0,
              padding: 0,
              color: '#222',
              font: { family: SERIF, size: 16, lineHeight: 1 },
              callback: (v: any) => String(v),
            },
            grid: { display: true, drawOnChartArea: false, drawTicks: true, tickLength: 2, color: '#444' },
            border: { display: false },
          },
          y: {
            type: 'linear',
            display: !!p.showY,
            min: row.yMin,
            max: row.yMax,
            afterBuildTicks: (s: any) => { s.ticks = Y_TICKS.map((v) => ({ value: v })); },
            afterFit: (s: any) => { if (p.showY) s.width = YW; },
            ticks: {
              padding: 1,
              color: '#222',
              font: { family: SERIF, size: 16, lineHeight: 1 },
              callback: (v: any) => Number(v).toFixed(1),
            },
            grid: { display: true, drawOnChartArea: false, drawTicks: true, tickLength: 3, color: '#444' },
            border: { display: false },
          },
        },
      } as any,
      plugins: [rotLabels],
    });
    return () => chart.destroy();
  }, []);

  return (
    <>
      <div style={{ position: 'absolute', left: p.left, top: row.plotTop, width: p.width, height: row.plotH, background: p.grey ? GREY : '#ffffff', zIndex: 1 }} />
      <canvas ref={ref} width={cw} height={ch} style={{ position: 'absolute', left: cl, top: ct, width: cw, height: ch, zIndex: 2 }} />
      <div style={{ position: 'absolute', left: p.left, top: row.plotTop, width: p.width + 1, height: row.plotH, border: '1.3px solid #5a5a5a', boxSizing: 'border-box', zIndex: 3 }} />
      <div style={{ position: 'absolute', left: p.left, top: row.headTop, width: p.width + 1, height: row.headH, background: '#151515', border: '1.3px solid #5a5a5a', boxSizing: 'border-box', color: '#fff', fontSize: 17, lineHeight: `${row.headH - 2}px`, textAlign: 'center', whiteSpace: 'nowrap', overflow: 'hidden', zIndex: 3 }}>{p.strip}</div>
    </>
  );
}

const LEGEND_ITEMS = [
  { name: 'ANN', color: '#1f1fb0', sx: 93, sw: 32, lx: 132, cy: 891 },
  { name: 'GBM', color: '#156b15', sx: 93, sw: 32, lx: 132, cy: 924 },
  { name: 'GLM', color: '#a03ca0', sx: 93, sw: 32, lx: 132, cy: 957 },
  { name: 'MAXNET', color: '#5e3211', sx: 246, sw: 33, lx: 288, cy: 891 },
  { name: 'RF', color: '#d9700f', sx: 246, sw: 33, lx: 293, cy: 924 },
  { name: 'XGBOOST', color: '#990000', sx: 246, sw: 33, lx: 289, cy: 957 },
  { name: 'GAM', color: '#707070', sx: 438, sw: 33, lx: 482, cy: 891 },
];

const ABBREVIATIONS = [
  { text: 'Max. temp.: Maximum temperature', left: 653, cy: 892 },
  { text: 'Mean prim. prod.: Mean primary productivity', left: 653, cy: 925 },
  { text: 'Mean Silic. Conc.: Mean silicate concentration', left: 655, cy: 958 },
  { text: 'Range temp. Range temperature', left: 1080, cy: 892 },
  { text: 'Min. Sal.: Minimum salinity', left: 1082, cy: 925 },
];

function Legend() {
  const txt = (left: number, cy: number, size: number, bold = false): React.CSSProperties => ({
    position: 'absolute', left, top: cy - 13, height: 26, lineHeight: '26px', fontSize: size, fontWeight: bold ? 700 : 400, whiteSpace: 'nowrap', color: '#111',
  });
  return (
    <>
      <div style={{ position: 'absolute', left: 88, top: 830, width: 1332, height: 155, border: '2px solid #444', boxSizing: 'border-box' }} />
      <div style={txt(102, 848, 20, true)}>Algorithm</div>
      {LEGEND_ITEMS.map((it) => (
        <React.Fragment key={it.name}>
          <div style={{ position: 'absolute', left: it.sx, top: it.cy - 3, width: it.sw, height: 6, borderRadius: 3, background: it.color }} />
          <div style={txt(it.lx, it.cy, 20)}>{it.name}</div>
        </React.Fragment>
      ))}
      <div style={{ position: 'absolute', left: 437, top: 957 - 5, width: 60, height: 10, borderRadius: 5, background: '#000' }} />
      <div style={txt(506, 957, 20)}>Ensemble</div>
      <div style={{ position: 'absolute', left: 625, top: 862, width: 3, height: 100, background: '#000' }} />
      <div style={txt(653, 855, 20, true)}>Abbreviations</div>
      {ABBREVIATIONS.map((a) => (
        <div key={a.text} style={txt(a.left, a.cy, 20)}>{a.text}</div>
      ))}
    </>
  );
}

export default function App() {
  return (
    <div style={{ position: 'absolute', left: 0, top: 0, width: 1450, height: 986, background: '#ffffff', overflow: 'hidden', fontFamily: SERIF, color: '#111' }}>
      {GROUP_BOXES.map((b, i) => (
        <div key={i} style={{ position: 'absolute', left: b.left, top: b.top, width: b.width, height: b.height, background: GREY, zIndex: 0 }} />
      ))}
      {TITLES.map((t) => (
        <div key={t.text} style={{ position: 'absolute', left: t.left, top: t.top, fontSize: 23, lineHeight: '23px', fontStyle: 'italic', whiteSpace: 'nowrap', zIndex: 4, color: '#111' }}>{t.text}</div>
      ))}
      {PANELS.map((p, i) => <Panel key={i} p={p} />)}
      <div style={{ position: 'absolute', left: 18, top: 196, transform: 'translate(-50%, -50%) rotate(-90deg)', fontSize: 17, whiteSpace: 'nowrap', zIndex: 4 }}>Response</div>
      <div style={{ position: 'absolute', left: 63, top: 594, transform: 'translate(-50%, -50%) rotate(-90deg)', fontSize: 17, whiteSpace: 'nowrap', zIndex: 4 }}>Response</div>
      <Legend />
    </div>
  );
}
